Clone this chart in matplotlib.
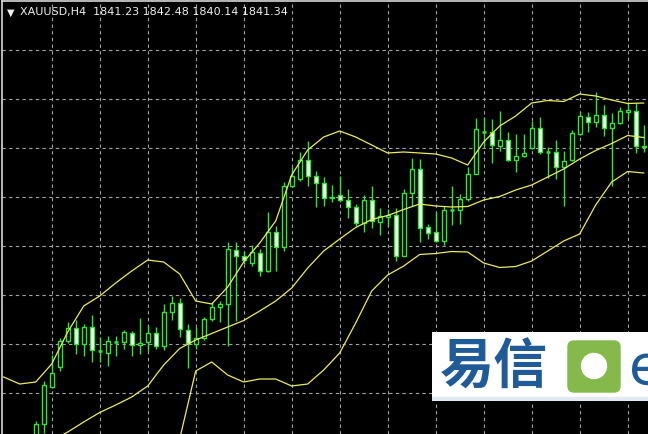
#     *****     import     *****
import numpy as np
import matplotlib
matplotlib.use('Agg')
import matplotlib.pyplot as plt
from matplotlib.patches import FancyBboxPatch, Circle, Rectangle

#     *****     dati     *****
simbolo = 'XAUUSD,H4'
ultimaBarra = ['1841.23', '1842.48', '1840.14', '1841.34']

aperture = [1811.5, 1813.5, 1817.2, 1819.2, 1821.8, 1823.1, 1821.5, 1823.2, 1820.8, 1820.6,
            1821.7, 1821.7, 1822.6, 1821.4, 1821.7, 1822.6, 1821.3, 1824.7, 1825.6, 1822.9,
            1821.5, 1822.1, 1824.0, 1825.2, 1825.5, 1830.9, 1830.3, 1829.6, 1830.6, 1828.8,
            1832.7, 1831.2, 1837.3, 1838.0, 1839.9, 1838.3, 1837.6, 1836.1, 1836.4, 1835.9,
            1835.2, 1833.6, 1835.9, 1833.7, 1834.2, 1834.4, 1830.3, 1836.6, 1839.0, 1833.2,
            1832.7, 1831.8, 1834.9, 1834.9, 1836.0, 1838.5, 1842.7, 1842.7, 1841.3, 1841.9,
            1839.9, 1840.3, 1841.1, 1843.1, 1840.7, 1840.7, 1839.2, 1839.9, 1842.5, 1844.2,
            1843.7, 1844.4, 1843.1, 1843.6, 1844.7, 1844.8, 1841.23]
massimi = [1813.8, 1817.8, 1820.4, 1822.1, 1823.7, 1823.9, 1823.5, 1824.4, 1822.2, 1822.3,
           1822.3, 1822.9, 1822.8, 1824.1, 1823.4, 1823.2, 1825.5, 1826.3, 1826.1, 1823.5,
           1823.2, 1824.2, 1825.7, 1825.8, 1831.7, 1831.7, 1830.8, 1831.4, 1831.0, 1834.7,
           1833.3, 1837.7, 1839.2, 1840.7, 1841.8, 1838.8, 1838.2, 1837.4, 1838.3, 1837.0,
           1835.5, 1836.4, 1837.3, 1835.1, 1835.0, 1835.1, 1837.0, 1840.1, 1840.0, 1833.5,
           1834.7, 1835.3, 1837.3, 1836.5, 1839.2, 1844.1, 1844.2, 1844.0, 1844.8, 1842.7,
           1842.5, 1842.5, 1843.8, 1844.2, 1841.2, 1841.9, 1840.8, 1842.9, 1844.7, 1844.7,
           1846.7, 1845.4, 1844.6, 1845.2, 1845.7, 1845.6, 1843.4]
minimi = [1811.0, 1812.6, 1817.1, 1818.8, 1821.6, 1820.5, 1820.3, 1819.7, 1819.7, 1819.3,
          1820.3, 1821.0, 1820.3, 1820.5, 1820.8, 1821.0, 1820.9, 1823.9, 1822.2, 1819.1,
          1821.0, 1821.9, 1823.8, 1823.7, 1821.3, 1823.8, 1829.5, 1829.3, 1828.3, 1828.7,
          1828.8, 1830.8, 1837.2, 1837.8, 1837.3, 1835.2, 1835.3, 1835.7, 1835.7, 1834.1,
          1833.3, 1832.7, 1833.1, 1832.4, 1833.3, 1829.8, 1830.3, 1835.3, 1831.7, 1832.0,
          1831.7, 1831.4, 1833.4, 1833.5, 1835.8, 1838.5, 1841.2, 1839.6, 1840.8, 1839.8,
          1838.7, 1840.2, 1841.0, 1840.5, 1838.1, 1838.0, 1835.3, 1839.8, 1842.4, 1842.7,
          1843.2, 1842.3, 1837.3, 1843.5, 1844.0, 1840.6, 1840.7]
chiusure = [1813.5, 1817.4, 1818.6, 1821.8, 1823.1, 1821.5, 1823.2, 1820.9, 1820.8, 1821.8,
            1821.7, 1822.7, 1821.4, 1821.6, 1822.6, 1821.3, 1824.7, 1825.6, 1823.0, 1821.6,
            1822.1, 1824.0, 1825.2, 1825.5, 1831.0, 1830.3, 1829.9, 1830.7, 1828.8, 1832.7,
            1831.2, 1837.3, 1838.3, 1839.9, 1838.3, 1837.6, 1836.1, 1836.2, 1835.9, 1835.2,
            1833.6, 1835.9, 1833.8, 1834.3, 1834.4, 1830.3, 1836.6, 1839.0, 1833.1, 1832.6,
            1831.8, 1834.9, 1834.9, 1836.0, 1838.5, 1843.0, 1842.7, 1841.4, 1841.9, 1839.9,
            1840.3, 1840.6, 1843.1, 1840.7, 1840.7, 1839.2, 1839.8, 1842.6, 1844.3, 1843.7,
            1844.4, 1843.1, 1843.6, 1844.8, 1844.9, 1841.3, 1841.34]

# Bande di Bollinger (lette ogni 2 barre)
idxSup = list(range(-4, 77, 2))
bandaSup = [1818.2, 1817.5, 1817.7, 1819.5, 1822.7, 1825.3, 1826.3, 1827.6, 1828.8, 1829.9,
            1829.7, 1828.5, 1825.8, 1825.5, 1827.2, 1829.7, 1831.6, 1833.8, 1838.4, 1840.9,
            1842.2, 1842.8, 1842.2, 1841.4, 1840.6, 1840.7, 1840.6, 1840.5, 1840.1, 1839.4,
            1841.7, 1843.3, 1844.3, 1845.6, 1845.85, 1845.75, 1846.5, 1846.3, 1845.9, 1845.55,
            1845.6]
idxMed = list(range(2, 77, 2))
bandaMed = [1811.8, 1812.7, 1813.7, 1814.65, 1815.4, 1816.2, 1817.3, 1819.4, 1821.05, 1821.9,
            1822.55, 1823.2, 1823.85, 1824.8, 1825.8, 1827.1, 1829.1, 1830.8, 1832.0, 1833.15,
            1833.95, 1834.35, 1834.95, 1835.5, 1835.3, 1835.2, 1835.25, 1835.9, 1836.25, 1836.9,
            1837.4, 1838.2, 1839.0, 1840.0, 1840.85, 1841.55, 1842.35, 1842.15]
idxInf = list(range(18, 77, 2))
bandaInf = [1812.0, 1818.8, 1819.7, 1818.4, 1817.7, 1818.0, 1818.0, 1817.3, 1817.5, 1818.9,
            1820.6, 1823.6, 1826.8, 1828.4, 1829.3, 1830.45, 1830.55, 1830.75, 1830.7, 1829.6,
            1829.15, 1829.25, 1829.8, 1830.8, 1831.8, 1832.5, 1835.4, 1837.7, 1838.75, 1838.6]

#     *****     figura     *****
W, H = 648, 435
verde = '#2ee82e'
giallo = '#ecec5c'

fig = plt.figure(figsize=(W / 100, H / 100), dpi=100, facecolor='black')
ax = fig.add_axes([1.5 / W, 0, (W - 1.5) / W, (H - 1.5) / H])
ax.set_facecolor('black')
ax.set_xlim(-4.275, 76.54)
ax.set_ylim(1812.5, 1855.85)

# griglia
ax.set_xticks(np.arange(2, 77, 6))
ax.set_yticks(1850.95 - 4.9 * np.arange(8))
ax.grid(True, color='#a4a4a4', linestyle=(0, (3, 3)), linewidth=0.8, zorder=0)
ax.tick_params(length=0, labelbottom=False, labelleft=False)
for lato in ['bottom', 'right']:
    ax.spines[lato].set_visible(False)
for lato in ['left', 'top']:
    ax.spines[lato].set_color('#d8d8d8')
    ax.spines[lato].set_linewidth(1.2)

# candele
x = np.arange(len(chiusure))
o = np.array(aperture)
c = np.array(chiusure)
ax.vlines(x, minimi, massimi, color=verde, linewidth=1, zorder=2)
for i in range(len(x)):
    if abs(c[i] - o[i]) < 0.05:
        ax.hlines(c[i], x[i] - 0.26, x[i] + 0.26, color=verde, linewidth=1.8, zorder=3)
        continue
    fill = 'black' if c[i] > o[i] else 'white'
    ax.bar(x[i], abs(c[i] - o[i]), bottom=min(o[i], c[i]), width=0.48,
           color=fill, edgecolor=verde, linewidth=1, zorder=3)

# bande
ax.plot(idxSup, bandaSup, color=giallo, linewidth=0.9, zorder=4)
ax.plot(idxMed, bandaMed, color=giallo, linewidth=0.9, zorder=4)
ax.plot(idxInf, bandaInf, color=giallo, linewidth=0.9, zorder=4)

# intestazione
fig.text(7 / W, 1 - 12.5 / H, '\u25bc', color='#f0f0f0', fontsize=7, va='center')
fig.text(20 / W, 1 - 12.5 / H, simbolo + '  ' + ' '.join(ultimaBarra),
         color='#f0f0f0', fontsize=8, va='center')

#     *****     logo     *****
logo = fig.add_axes([432 / W, 33 / H, 216 / W, 69 / H])
logo.set_xlim(0, 216)
logo.set_ylim(0, 69)
logo.set_facecolor('white')
logo.axis('off')
logo.add_patch(Rectangle((0, 0), 216, 69, color='white', zorder=0))
logo.add_patch(Rectangle((0, 0), 216, 4, color='#e3eaf3', zorder=1))
logo.text(8, 34, '易信', fontsize=39, fontweight='bold', color='#1f5b98',
          family=['Noto Sans CJK SC', 'DejaVu Sans'], va='center', ha='left')
logo.add_patch(FancyBboxPatch((140, 13), 44, 43, boxstyle='round,pad=4,rounding_size=6',
                              color='#86b94b', zorder=2))
logo.add_patch(Circle((162, 35), 12.5, color='white', zorder=3))
logo.text(197, 33, 'e', fontsize=40, color='#1f5b98', va='center', ha='left', clip_on=True)

fig.savefig('out.png', dpi=100, facecolor='black')
